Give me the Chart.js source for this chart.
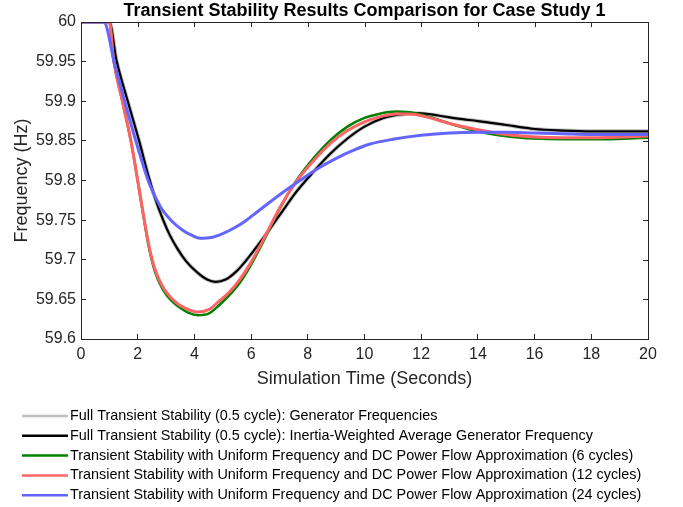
<!DOCTYPE html>
<html>
<head>
<meta charset="utf-8">
<script src="https://cdn.jsdelivr.net/npm/chart.js@4.4.1/dist/chart.umd.min.js"></script>
<style>html,body{margin:0;padding:0;background:#fff;}canvas{display:block;}</style>
</head>
<body>
<canvas id="c" width="683" height="507"></canvas>
<script>
const chartTitle = 'Transient Stability Results Comparison for Case Study 1';
const xTitle = 'Simulation Time (Seconds)';
const yTitle = 'Frequency (Hz)';
const seriesLabels = [
  'Full Transient Stability (0.5 cycle): Generator Frequencies',
  'Full Transient Stability (0.5 cycle): Inertia-Weighted Average Generator Frequency',
  'Transient Stability with Uniform Frequency and DC Power Flow Approximation (6 cycles)',
  'Transient Stability with Uniform Frequency and DC Power Flow Approximation (12 cycles)',
  'Transient Stability with Uniform Frequency and DC Power Flow Approximation (24 cycles)'
];
const seriesColors = ['#c0c0c0', '#000000', '#008000', '#ff6464', '#6464ff'];

// Generator frequencies (hidden under the average curve)
const tGen = [0, 1.0, 1.25, 1.65, 2.05, 2.4, 2.64, 2.9, 3.12, 3.4, 3.71, 4.1, 4.45, 4.75, 5.1, 5.5, 5.8, 6.4, 7.0, 7.6, 8.2, 8.8, 9.4, 10.0, 10.6, 11.2, 11.9, 12.6, 13.3, 14.0, 15.0, 16.0, 17.0, 18.0, 20.0];
const fGen = [60, 60, 59.952, 59.9, 59.85, 59.803, 59.775, 59.75, 59.732, 59.714, 59.698, 59.684, 59.675, 59.672, 59.675, 59.686, 59.698, 59.726, 59.756, 59.786, 59.811, 59.834, 59.853, 59.868, 59.878, 59.883, 59.885, 59.882, 59.878, 59.875, 59.870, 59.865, 59.863, 59.862, 59.862];
// Inertia-weighted average
const tAvg = [0, 1.0, 1.25, 1.65, 2.05, 2.4, 2.64, 2.9, 3.12, 3.4, 3.71, 4.1, 4.45, 4.75, 5.1, 5.5, 5.8, 6.4, 7.0, 7.6, 8.2, 8.8, 9.4, 10.0, 10.6, 11.2, 11.9, 12.6, 13.3, 14.0, 15.0, 16.0, 17.0, 18.0, 20.0];
const fAvg = [60, 60, 59.952, 59.9, 59.85, 59.803, 59.775, 59.75, 59.732, 59.714, 59.698, 59.684, 59.675, 59.672, 59.675, 59.686, 59.698, 59.726, 59.756, 59.786, 59.811, 59.834, 59.853, 59.868, 59.878, 59.883, 59.885, 59.882, 59.878, 59.875, 59.870, 59.865, 59.863, 59.862, 59.862];
// 6 cycles
const t6 = [0, 1.0, 1.15, 1.46, 1.76, 2.0, 2.2, 2.4, 2.6, 2.88, 3.2, 3.47, 3.8, 4.12, 4.5, 4.88, 5.2, 5.6, 6.0, 6.5, 7.0, 7.6, 8.2, 8.8, 9.4, 10.0, 10.5, 11.1, 11.6, 12.2, 13.0, 14.0, 15.0, 16.0, 17.0, 18.0, 20.0];
const f6 = [60, 60, 59.952, 59.9, 59.85, 59.8, 59.756, 59.715, 59.686, 59.663, 59.648, 59.640, 59.633, 59.630, 59.632, 59.643, 59.654, 59.671, 59.694, 59.728, 59.764, 59.800, 59.828, 59.851, 59.868, 59.879, 59.884, 59.887, 59.886, 59.881, 59.872, 59.862, 59.856, 59.853, 59.852, 59.852, 59.854];
// 12 cycles
const t12 = [0, 1.0, 1.15, 1.46, 1.76, 2.0, 2.2, 2.4, 2.6, 2.88, 3.2, 3.47, 3.8, 4.12, 4.5, 4.88, 5.2, 5.6, 6.0, 6.5, 7.0, 7.6, 8.2, 8.8, 9.4, 10.0, 10.5, 11.1, 11.6, 12.2, 13.0, 14.0, 15.0, 16.0, 17.0, 18.0, 20.0];
const f12 = [60, 60, 59.952, 59.9, 59.85, 59.8, 59.757, 59.717, 59.689, 59.666, 59.651, 59.643, 59.637, 59.634, 59.637, 59.648, 59.658, 59.675, 59.697, 59.730, 59.765, 59.799, 59.825, 59.847, 59.863, 59.874, 59.880, 59.884, 59.884, 59.880, 59.872, 59.864, 59.858, 59.855, 59.854, 59.854, 59.856];
// 24 cycles
const t24 = [0, 0.8, 1.2, 1.6, 2.0, 2.4, 2.8, 3.2, 3.6, 3.9, 4.2, 4.6, 5.0, 5.4, 5.8, 6.2, 6.6, 7.2, 7.8, 8.4, 9.0, 9.6, 10.2, 11.0, 12.0, 13.0, 14.0, 15.0, 16.0, 17.0, 18.0, 20.0];
const f24 = [60, 60, 59.945, 59.892, 59.842, 59.797, 59.767, 59.749, 59.737, 59.731, 59.727, 59.728, 59.733, 59.740, 59.749, 59.760, 59.771, 59.787, 59.802, 59.816, 59.828, 59.838, 59.846, 59.852, 59.857, 59.860, 59.861, 59.861, 59.860, 59.859, 59.858, 59.858];

const xTickValues = [0, 2, 4, 6, 8, 10, 12, 14, 16, 18, 20];
const xTickLabels = ['0', '2', '4', '6', '8', '10', '12', '14', '16', '18', '20'];
const yTickValues = [59.6, 59.65, 59.7, 59.75, 59.8, 59.85, 59.9, 59.95, 60];
const yTickLabels = ['59.6', '59.65', '59.7', '59.75', '59.8', '59.85', '59.9', '59.95', '60'];

const FONT = '"Liberation Sans", Arial, Helvetica, sans-serif';
const AXIS_COLOR = '#262626';

function pts(t, f) { return t.map((v, i) => ({ x: v, y: f[i] })); }

const seriesData = [pts(tGen, fGen), pts(tAvg, fAvg), pts(t6, f6), pts(t12, f12), pts(t24, f24)];
const widths = [4, 2.2, 2.6, 3, 3];
const orders = [5, 4, 3, 2, 1];

const datasets = seriesLabels.map((lab, i) => ({
  label: lab,
  data: seriesData[i],
  borderColor: seriesColors[i],
  backgroundColor: seriesColors[i],
  borderWidth: widths[i],
  pointRadius: 0,
  fill: false,
  cubicInterpolationMode: 'monotone',
  order: orders[i]
}));

const framePlugin = {
  id: 'frame',
  afterDatasetsDraw(chart) {
    const { ctx, chartArea: a, scales } = chart;
    ctx.save();
    ctx.strokeStyle = AXIS_COLOR;
    ctx.lineWidth = 1;
    ctx.beginPath();
    ctx.moveTo(a.left, a.top + 0.5); ctx.lineTo(a.right + 0.5, a.top + 0.5);
    ctx.lineTo(a.right + 0.5, a.bottom);
    ctx.stroke();
    ctx.beginPath();
    scales.x.ticks.forEach(t => {
      const px = Math.round(scales.x.getPixelForValue(t.value)) + 0.5;
      ctx.moveTo(px, a.top); ctx.lineTo(px, a.top + 5);
    });
    scales.y.ticks.forEach(t => {
      const py = Math.round(scales.y.getPixelForValue(t.value)) + 0.5;
      ctx.moveTo(a.right, py); ctx.lineTo(a.right - 5, py);
    });
    ctx.stroke();
    ctx.restore();
  }
};

const legendPlugin = {
  id: 'matlabLegend',
  afterDraw(chart) {
    const ctx = chart.ctx;
    const y0 = chart.chartArea.bottom + 77;
    ctx.save();
    ctx.font = '14.4px ' + FONT;
    ctx.textBaseline = 'middle';
    ctx.textAlign = 'left';
    chart.data.datasets.forEach((ds, i) => {
      const y = y0 + i * 19.8;
      ctx.strokeStyle = ds.borderColor;
      ctx.lineWidth = 2.5;
      ctx.beginPath(); ctx.moveTo(22, y); ctx.lineTo(68, y); ctx.stroke();
      ctx.fillStyle = '#000';
      ctx.fillText(ds.label, 70, y);
    });
    ctx.restore();
  }
};

new Chart(document.getElementById('c'), {
  type: 'line',
  data: { datasets },
  options: {
    responsive: false,
    animation: false,
    devicePixelRatio: 1,
    layout: { padding: { left: 0, right: 35, top: 0, bottom: 115 } },
    plugins: {
      legend: { display: false },
      tooltip: { enabled: false },
      title: {
        display: true,
        fullSize: false,
        text: chartTitle,
        color: '#000',
        font: { family: FONT, size: 18, weight: 'bold', lineHeight: '22px' },
        padding: { top: 0, bottom: 0 }
      }
    },
    scales: {
      x: {
        type: 'linear',
        min: 0, max: 20,
        afterFit: s => { s.height = 53; },
        afterBuildTicks: s => { s.ticks = xTickValues.map(v => ({ value: v })); },
        ticks: {
          color: AXIS_COLOR, font: { family: FONT, size: 16 }, padding: 11.4, maxRotation: 0, autoSkip: false,
          callback: (v, i) => xTickLabels[i]
        },
        grid: { drawOnChartArea: false, drawTicks: true, tickLength: -5, color: AXIS_COLOR },
        border: { display: true, color: AXIS_COLOR, width: 1 },
        title: { display: true, text: xTitle, color: AXIS_COLOR, font: { family: FONT, size: 18 }, padding: { top: 0, bottom: 1.7 } }
      },
      y: {
        type: 'linear',
        min: 59.6, max: 60,
        afterFit: s => { s.width = 81; },
        afterBuildTicks: s => { s.ticks = yTickValues.map(v => ({ value: v })); },
        ticks: {
          color: AXIS_COLOR, font: { family: FONT, size: 16 }, padding: 10, autoSkip: false,
          callback: (v, i) => yTickLabels[i]
        },
        grid: { drawOnChartArea: false, drawTicks: true, tickLength: -5, color: AXIS_COLOR },
        border: { display: true, color: AXIS_COLOR, width: 1 },
        title: { display: true, text: yTitle, color: AXIS_COLOR, font: { family: FONT, size: 18 }, padding: { top: 11, bottom: 0 } }
      }
    }
  },
  plugins: [framePlugin, legendPlugin]
});
</script>
</body>
</html>
